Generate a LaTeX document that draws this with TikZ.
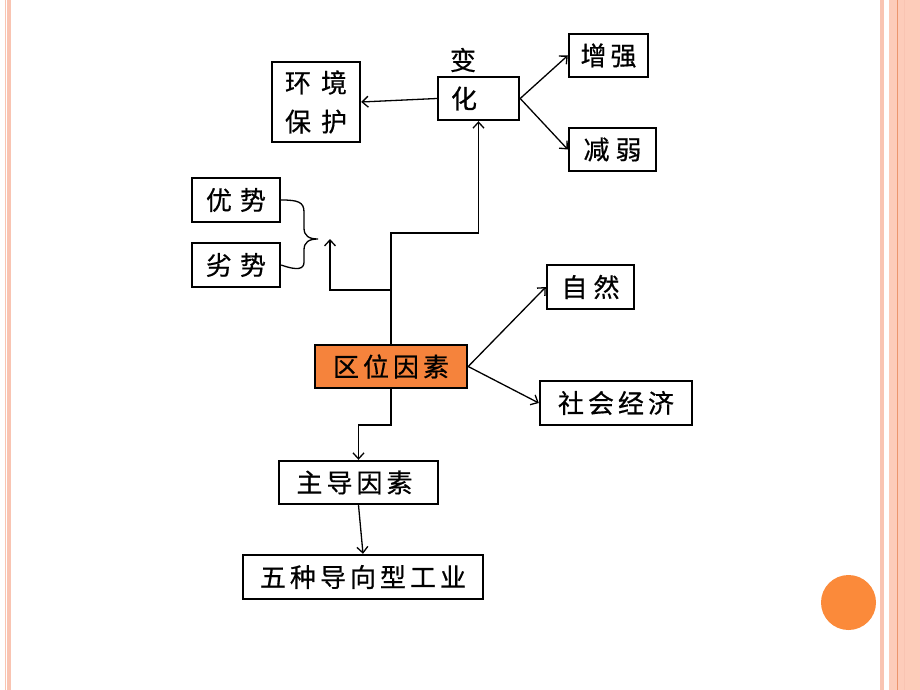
\documentclass[tikz,border=0pt]{standalone}
\usepackage{fontspec}
\newfontfamily\cjk{Noto Sans CJK SC}[FakeBold=0.6]
\usetikzlibrary{arrows.meta}
\definecolor{stripe}{RGB}{249,196,178}
\definecolor{band}{RGB}{253,204,186}
\definecolor{bandline}{RGB}{236,150,110}
\definecolor{orangefill}{RGB}{245,131,60}
\definecolor{dotc}{RGB}{251,138,58}
\begin{document}
\begin{tikzpicture}[x=1pt,y=-1pt,
  box/.style={draw=black, line width=2.4pt, fill=white, inner sep=0pt,
    font=\cjk\fontsize{26}{39}\selectfont, anchor=center, align=center},
  plain/.style={inner sep=0pt, font=\cjk\fontsize{26}{39}\selectfont, anchor=center},
  conn/.style={line width=1.3pt, -{Straight Barb[length=6pt,width=11pt]}},
  bracel/.style={line width=1.3pt}]
\useasboundingbox (0,0) rectangle (920,690);
\fill[white] (0,0) rectangle (920,690);
% page border stripes
\fill[stripe] (5,0) rectangle (6.3,690);
\fill[stripe] (7.3,0) rectangle (11,690);
\fill[stripe] (880,0) rectangle (884,690);
\fill[band] (889,0) rectangle (920,690);
\draw[bandline, line width=0.6pt] (897,0) -- (897,690);
\draw[stripe, line width=0.6pt] (904,0) -- (904,690);
\fill[dotc] (848.5,602.5) circle (27.5);
% nodes
\node[box, minimum width=88, minimum height=80] (hj) at (316,102) {环\hspace{10pt}境\\保\hspace{10pt}护};
\node[box, minimum height=43, text width=55pt, inner xsep=13pt, align=left] (hua) at (478.5,98.5) {化};
\node[plain] (bian) at (463,60) {变};
\node[box, minimum width=79, minimum height=43] (zq) at (608.5,55.5) {增\hspace{4pt}强};
\node[box, minimum width=87, minimum height=43] (jr) at (612.5,149.5) {减\hspace{6pt}弱};
\node[box, minimum width=88, minimum height=44] (ys) at (236,200) {优\hspace{8pt}势};
\node[box, minimum width=88, minimum height=44] (ls) at (236,265) {劣\hspace{8pt}势};
\node[box, minimum width=87, minimum height=44] (zr) at (590.5,287) {自\hspace{6pt}然};
\node[box, minimum width=152, minimum height=43, fill=orangefill] (qw) at (391,366.5) {区\hspace{4pt}位\hspace{4pt}因\hspace{4pt}素};
\node[box, minimum width=152, minimum height=44] (sh) at (616,403) {社\hspace{4pt}会\hspace{4pt}经\hspace{4pt}济};
\node[box, minimum width=159, minimum height=43] (zd) at (358.5,482.5) {主\hspace{4pt}导\hspace{4pt}因\hspace{4pt}素\hspace{8pt}};
\node[box, minimum width=240, minimum height=44] (wz) at (363,577) {五\hspace{4pt}种\hspace{4pt}导\hspace{4pt}向\hspace{4pt}型\hspace{4pt}工\hspace{4pt}业};
% brace
\coordinate (bt) at (330,239);
\draw[bracel] (ys.east) .. controls (298,200) and (304,202) .. (304,212)
  -- (304,228) .. controls (304,236) and (309,239) .. (318,239)
  .. controls (309,239) and (304,242) .. (304,250)
  -- (304,262) .. controls (304,269) and (298,271) .. (ls.east);
% connectors
\draw[conn] (qw.north) -- (qw.north |- 0,233) -| (hua.south);
\draw[conn] (qw.north |- 0,290) -| (bt);
\draw[conn] (hua.west) -- (hj.east);
\draw[conn] (hua.east) -- (zq.west);
\draw[conn] (hua.east) -- (jr.west);
\draw[conn] (qw.east) -- (zr.west);
\draw[conn] (qw.east) -- (sh.west);
\draw[conn] (qw.south) -- (qw.south |- 0,425) -| (zd.north);
\draw[conn] (zd.south) -- (wz.north);
\end{tikzpicture}
\end{document}
